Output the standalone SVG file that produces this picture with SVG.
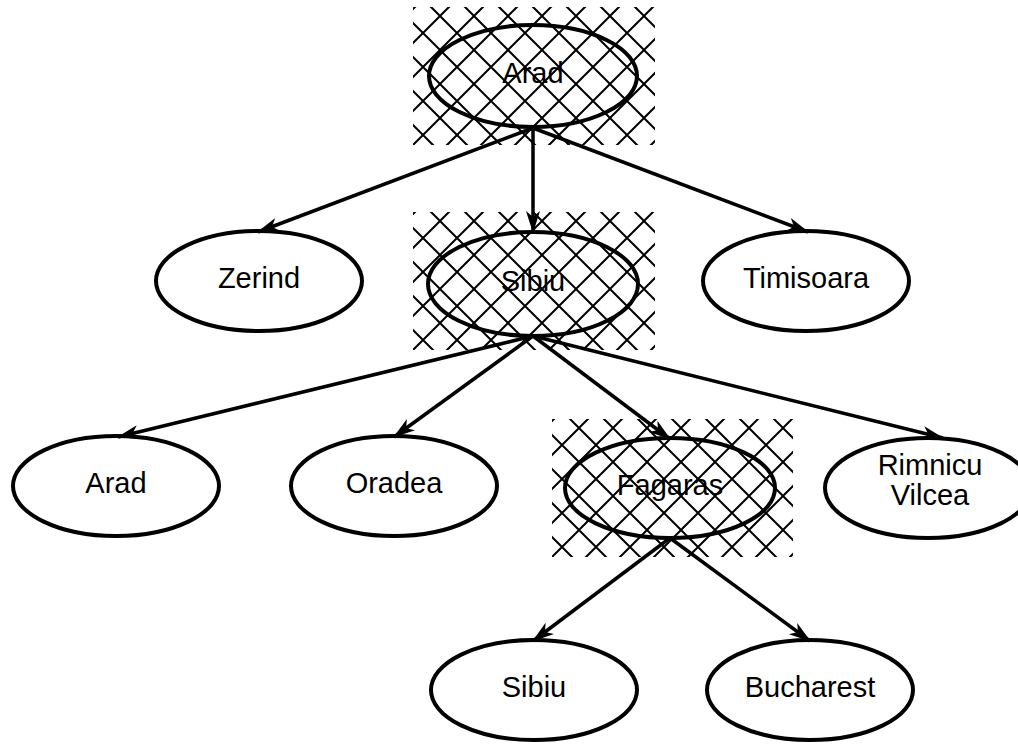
<svg xmlns="http://www.w3.org/2000/svg" width="1018" height="745" viewBox="0 0 1018 745">
<style>
.node ellipse{fill:#fff;stroke:#000;stroke-width:4}
.node.hatched ellipse{fill:none}
.node text{font-family:"Liberation Sans",Arial,sans-serif;font-size:29px;text-anchor:middle;fill:#000}
.edges line{stroke:#000;stroke-width:3.5;marker-end:url(#arr)}
.hatch{fill:url(#xh)}
</style>
<defs>
<pattern id="xh" patternUnits="userSpaceOnUse" x="27" y="9" width="34" height="34">
<path d="M-1,-1 L35,35 M35,-1 L-1,35" stroke="#000" stroke-width="2" fill="none"/>
</pattern>
<marker id="arr" markerUnits="userSpaceOnUse" markerWidth="30" markerHeight="30" viewBox="-25 -15 30 30" refX="0" refY="0" orient="auto">
<path d="M1,0 L-21,-7 L-15,0 L-21,7 Z" fill="#000"/>
</marker>
</defs>
<g id="hatches">
<g transform="translate(413,7)"><rect class="hatch" width="242" height="138"/></g>
<g transform="translate(413,212)"><rect class="hatch" width="242" height="138"/></g>
<g transform="translate(552,419)"><rect class="hatch" width="241" height="138"/></g>
</g>
<g id="n_arad" class="node hatched"><ellipse cx="533" cy="76" rx="104" ry="51"/><text x="533" y="83">Arad</text></g>
<g id="n_zerind" class="node"><ellipse cx="259" cy="281" rx="103" ry="50"/><text x="259" y="288">Zerind</text></g>
<g id="n_sibiu" class="node hatched"><ellipse cx="533" cy="284" rx="105" ry="52"/><text x="533" y="291">Sibiu</text></g>
<g id="n_timisoara" class="node"><ellipse cx="806" cy="281" rx="103" ry="50"/><text x="806" y="288">Timisoara</text></g>
<g id="n_arad2" class="node"><ellipse cx="116" cy="486" rx="103" ry="50"/><text x="116" y="493">Arad</text></g>
<g id="n_oradea" class="node"><ellipse cx="394" cy="486" rx="103" ry="50"/><text x="394" y="493">Oradea</text></g>
<g id="n_fagaras" class="node hatched"><ellipse cx="670" cy="488" rx="105" ry="50"/><text x="670" y="495">Fagaras</text></g>
<g id="n_rimnicu" class="node"><ellipse cx="928" cy="488" rx="103" ry="50"/><text x="930" y="475">Rimnicu</text><text x="930" y="505">Vilcea</text></g>
<g id="n_sibiu2" class="node"><ellipse cx="534" cy="690" rx="103" ry="50"/><text x="534" y="697">Sibiu</text></g>
<g id="n_bucharest" class="node"><ellipse cx="810" cy="690" rx="103" ry="50"/><text x="810" y="697">Bucharest</text></g>
<g id="edges" class="edges">
<line x1="533" y1="128" x2="258" y2="232"/>
<line x1="533" y1="128" x2="533" y2="232"/>
<line x1="533" y1="128" x2="808" y2="232"/>
<line x1="533" y1="336" x2="118" y2="437"/>
<line x1="533" y1="336" x2="394" y2="437"/>
<line x1="533" y1="336" x2="670" y2="439"/>
<line x1="533" y1="336" x2="943" y2="438"/>
<line x1="670" y1="538" x2="533" y2="641"/>
<line x1="670" y1="538" x2="810" y2="641"/>
</g>
</svg>
